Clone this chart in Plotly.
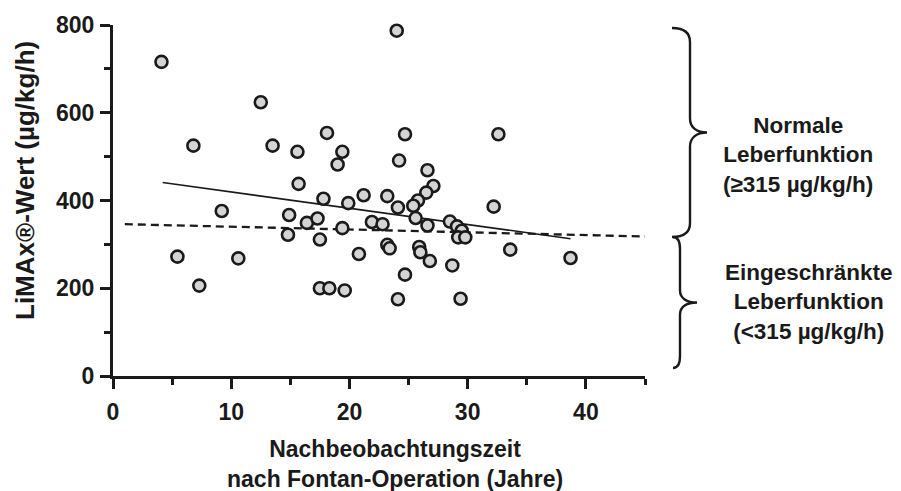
import plotly.graph_objects as go

# ---- data ----
follow_up_years = [4.1, 12.5, 6.8, 13.5, 15.6, 18.1, 19.4, 19.0, 15.7, 17.8,
                   19.9, 9.2, 14.9, 16.4, 17.3, 19.4, 14.8, 17.5, 5.45, 10.6,
                   7.3, 17.5, 18.3, 19.6, 24.0, 24.7, 32.6, 24.2, 26.6, 27.1,
                   26.5, 21.2, 23.2, 24.1, 25.8, 25.6, 26.6, 32.2, 21.9, 22.8,
                   28.5, 29.1, 29.5, 29.2, 29.8, 20.8, 23.2, 23.4, 25.9, 26.0,
                   26.8, 33.6, 38.7, 24.7, 28.7, 24.1, 29.4, 25.4]
limax_values = [716, 624, 525, 525, 511, 554, 511, 482, 438, 404,
                394, 376, 367, 349, 359, 337, 322, 311, 272, 268,
                206, 200, 200, 195, 787, 551, 551, 491, 469, 433,
                418, 412, 410, 384, 400, 360, 343, 386, 351, 346,
                352, 341, 331, 316, 316, 278, 299, 291, 294, 282,
                262, 288, 269, 231, 252, 175, 176, 388]

fit_x = [4.2, 38.7]
fit_y = [441, 313]

dash_x = [1.0, 45.0]
dash_y = [346, 318]

x_tickvals = [0, 10, 20, 30, 40]
y_tickvals = [0, 200, 400, 600, 800]

x_title = "Nachbeobachtungszeit<br>nach Fontan-Operation (Jahre)"
y_title = "LiMAx®-Wert (µg/kg/h)"
upper_label = "Normale<br>Leberfunktion<br>(≥315 µg/kg/h)"
lower_label = "Eingeschränkte<br>Leberfunktion<br>(<315 µg/kg/h)"

# ---- layout geometry ----
W, H = 901, 491
ML, MT = 113, 25
PW, PH = 532, 351
MR = W - ML - PW
MB = H - MT - PH
FONT = "Liberation Sans, Arial, Helvetica, sans-serif"
INK = "#1a1a1a"


def px_x(px):
    return (px - ML) / PW


def px_y(py):
    return (MT + PH - py) / PH


def brace_path(x_end, x_spine, x_tip, y_top, y_bot, r):
    ym = (y_top + y_bot) / 2.0
    pts = [
        ("M", [(x_end, y_top)]),
        ("C", [(x_end + (x_spine - x_end) * 0.7, y_top), (x_spine, y_top + r * 0.4), (x_spine, y_top + r)]),
        ("L", [(x_spine, ym - r)]),
        ("C", [(x_spine, ym - r * 0.35), (x_spine + (x_tip - x_spine) * 0.4, ym), (x_tip, ym)]),
        ("C", [(x_spine + (x_tip - x_spine) * 0.4, ym), (x_spine, ym + r * 0.35), (x_spine, ym + r)]),
        ("L", [(x_spine, y_bot - r)]),
        ("C", [(x_spine, y_bot - r * 0.4), (x_end + (x_spine - x_end) * 0.7, y_bot), (x_end, y_bot)]),
    ]
    s = ""
    for cmd, ps in pts:
        s += cmd + " " + " ".join(f"{px_x(a):.5f},{px_y(b):.5f}" for a, b in ps) + " "
    return s.strip()


fig = go.Figure()

fig.add_trace(go.Scatter(
    x=dash_x, y=dash_y, mode="lines",
    line=dict(color=INK, width=2.3, dash="8px,5px"),
    hoverinfo="skip", showlegend=False,
))
fig.add_trace(go.Scatter(
    x=fit_x, y=fit_y, mode="lines",
    line=dict(color=INK, width=1.6),
    hoverinfo="skip", showlegend=False,
))
fig.add_trace(go.Scatter(
    x=follow_up_years, y=limax_values, mode="markers",
    marker=dict(size=12, color="#d4d4d4", line=dict(color=INK, width=2.6)),
    cliponaxis=False, showlegend=False,
))

axis_common = dict(
    showline=True, linecolor=INK, linewidth=3,
    ticks="outside", ticklen=10, tickwidth=2.5, tickcolor=INK,
    showgrid=False, zeroline=False,
    tickfont=dict(family=FONT, size=23, color=INK, weight="bold"),
)

fig.update_xaxes(range=[0, 45], tickvals=x_tickvals,
                 minor=dict(ticks="outside", ticklen=6, tickwidth=2.5, tickcolor=INK, dtick=5, tick0=0, showgrid=False),
                 ticklabelstandoff=3, **axis_common)
fig.update_yaxes(range=[0, 800], tickvals=y_tickvals,
                 minor=dict(ticks="outside", ticklen=6, tickwidth=2.5, tickcolor=INK, dtick=100, tick0=0, showgrid=False),
                 ticklabelstandoff=1, **axis_common)

shapes = [
    dict(type="path", xref="paper", yref="paper",
         path=brace_path(672, 690, 707, 28, 237, 14),
         line=dict(color=INK, width=2.4)),
    dict(type="path", xref="paper", yref="paper",
         path=brace_path(673, 680, 697, 237, 368, 12),
         line=dict(color=INK, width=2.4)),
]

annotations = [
    dict(text=x_title, xref="paper", yref="paper", x=px_x(395), y=px_y(464),
         showarrow=False, xanchor="center", yanchor="middle",
         font=dict(family=FONT, size=23, color=INK, weight="bold")),
    dict(text=y_title, xref="paper", yref="paper", x=px_x(25), y=px_y(181),
         showarrow=False, xanchor="center", yanchor="middle", textangle=-90,
         font=dict(family=FONT, size=26, color=INK, weight="bold")),
    dict(text=upper_label, xref="paper", yref="paper", x=px_x(798), y=px_y(155),
         showarrow=False, xanchor="center", yanchor="middle",
         font=dict(family=FONT, size=22.5, color=INK, weight="bold")),
    dict(text=lower_label, xref="paper", yref="paper", x=px_x(809), y=px_y(302),
         showarrow=False, xanchor="center", yanchor="middle",
         font=dict(family=FONT, size=22.5, color=INK, weight="bold")),
]

fig.update_layout(
    width=W, height=H,
    margin=dict(l=ML, r=MR, t=MT, b=MB, pad=0),
    plot_bgcolor="white", paper_bgcolor="white",
    font=dict(family=FONT, size=20, color=INK),
    shapes=shapes, annotations=annotations,
    showlegend=False,
)

fig.write_html(
    "out.html",
    config={"displayModeBar": False},
    post_script="document.documentElement.style.margin='0';document.body.style.margin='0';document.body.style.overflow='hidden';",
)
